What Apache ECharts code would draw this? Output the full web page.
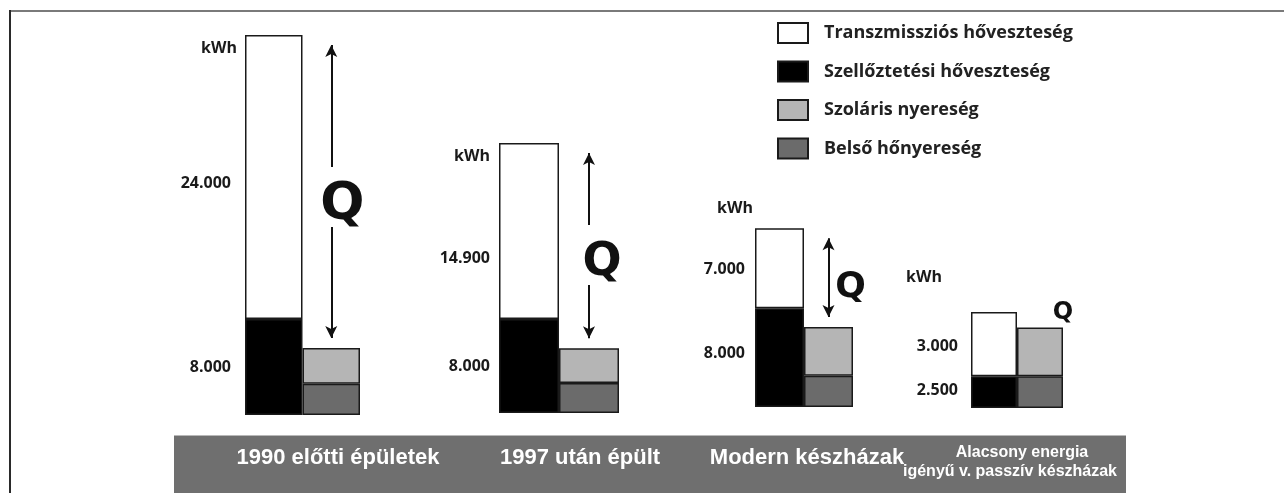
<!DOCTYPE html>
<html>
<head>
<meta charset="utf-8">
<script src="https://cdn.jsdelivr.net/npm/echarts@6/dist/echarts.min.js"></script>
<style>
  html, body { margin: 0; padding: 0; background: #ffffff; }
  #chart { width: 1284px; height: 493px; }
</style>
</head>
<body>
<div id="chart"></div>
<script>
// ---- data (heights, in kWh-equivalent units) ----
const categories = ['1990 előtti épületek', '1997 után épült', 'Modern készházak', 'Alacsony energia\nigényű v. passzív készházak'];
const seriesNames = ['Transzmissziós hőveszteség', 'Szellőztetési hőveszteség', 'Szoláris nyereség', 'Belső hőnyereség'];
const transmission = [24150, 14950, 6800, 5450];
const ventilation = [8150, 8000, 8400, 2700];
const solar = [3050, 2950, 4150, 4150];
const internal = [2650, 2550, 2650, 2700];
const transmissionLabels = ['24.000', '14.900', '7.000', '3.000'];
const ventilationLabels = ['8.000', '8.000', '8.000', '2.500'];
const unitName = 'kWh';
const qLabel = 'Q';
const barSlots = ['veszteség', 'nyereség'];

// ---- layout (pixels) ----
const PER_PX = 85;          // value units per pixel
const GRID_H = 400;
const layout = [
  { left: 245, width: 115, baseline: 415, kwhY: 48,  kwhPad: 8,  dist: 14, tOff: 6,  vOff: 0,  qY: 205, qDx: 11, qSize: 52, arrow: 'gap' },
  { left: 499, width: 120, baseline: 413, kwhY: 156, kwhPad: 9,  dist: 9,  tOff: 27, vOff: 0,  qY: 263, qDx: 13, qSize: 46, arrow: 'gap' },
  { left: 755, width: 98,  baseline: 407, kwhY: 208, kwhPad: 2,  dist: 10, tOff: 1,  vOff: -4, qY: 288, qDx: 22, qSize: 36, arrow: 'full' },
  { left: 971, width: 92,  baseline: 408, kwhY: 277, kwhPad: 29, dist: 13, tOff: 2,  vOff: -2, qY: 313, qDx: 23, qSize: 24, arrow: 'none' }
];
const bandLabelPos = [[338, 458], [580, 458], [807, 458], [[1022, 453], [1010, 472]]];

const colors = {
  transmission: '#ffffff',
  ventilation: '#000000',
  solar: '#b5b5b5',
  internal: '#6b6b6b',
  border: '#1a1a1a',
  text: '#1a1a1a'
};
const numFont = { fontFamily: 'Open Sans', fontWeight: 'bold', fontSize: 16, color: colors.text };

const grids = [], xAxes = [], yAxes = [], series = [];
layout.forEach((L, g) => {
  const top = L.baseline - GRID_H;
  grids.push({ left: L.left, top: top, width: L.width, height: GRID_H });
  xAxes.push({ gridIndex: g, type: 'category', data: barSlots, show: false });
  yAxes.push({
    gridIndex: g, type: 'value', min: 0, max: GRID_H * PER_PX,
    axisLine: { show: false }, axisTick: { show: false }, axisLabel: { show: false }, splitLine: { show: false },
    name: unitName, nameLocation: 'end', nameGap: -(L.kwhY - top),
    nameTextStyle: Object.assign({}, numFont, { align: 'right', verticalAlign: 'middle', padding: [0, L.kwhPad, 0, 0] })
  });
  const base = {
    type: 'bar', xAxisIndex: g, yAxisIndex: g, stack: 'g' + g,
    barCategoryGap: '0%', barGap: '0%', silent: true
  };
  const border = { borderColor: colors.border, borderWidth: 1.5 };
  series.push(Object.assign({}, base, {
    name: seriesNames[1], data: [ventilation[g], '-'],
    itemStyle: Object.assign({ color: colors.ventilation }, border),
    label: Object.assign({ show: true, position: 'left', distance: L.dist, offset: [0, L.vOff],
      formatter: () => ventilationLabels[g] }, numFont)
  }));
  series.push(Object.assign({}, base, {
    name: seriesNames[3], data: ['-', internal[g]],
    itemStyle: Object.assign({ color: colors.internal }, border)
  }));
  series.push(Object.assign({}, base, {
    name: seriesNames[0], data: [transmission[g], '-'],
    itemStyle: Object.assign({ color: colors.transmission }, border),
    label: Object.assign({ show: true, position: 'left', distance: L.dist, offset: [0, L.tOff],
      formatter: () => transmissionLabels[g] }, numFont)
  }));
  // arrows and Q
  const lossTotal = transmission[g] + ventilation[g];
  const gainTotal = solar[g] + internal[g];
  const aTop = lossTotal - 10 * PER_PX;
  const aBot = gainTotal + 10 * PER_PX;
  const qVal = (L.baseline - L.qY) * PER_PX;
  let mlData = [];
  if (L.arrow === 'gap') {
    mlData = [
      [{ coord: [1, qVal + 38 * PER_PX], symbol: 'none' }, { coord: [1, aTop], symbol: 'arrow' }],
      [{ coord: [1, qVal - 22 * PER_PX], symbol: 'none' }, { coord: [1, aBot], symbol: 'arrow' }]
    ];
  } else if (L.arrow === 'full') {
    mlData = [[{ coord: [1, aBot], symbol: 'arrow' }, { coord: [1, aTop], symbol: 'arrow' }]];
  }
  series.push(Object.assign({}, base, {
    name: seriesNames[2], data: ['-', solar[g]],
    itemStyle: Object.assign({ color: colors.solar }, border),
    markLine: mlData.length ? {
      silent: true, symbolSize: [9, 12], label: { show: false },
      lineStyle: { color: '#111111', width: 2, type: 'solid' },
      emphasis: { disabled: true },
      data: mlData
    } : undefined,
    markPoint: {
      silent: true, symbol: 'rect', symbolSize: [1, 1],
      itemStyle: { color: 'rgba(0,0,0,0)' },
      label: { show: true, position: 'inside', offset: [L.qDx, 0], formatter: qLabel,
        fontFamily: 'DejaVu Sans', fontWeight: 'bold', fontSize: L.qSize, color: '#111111' },
      data: [{ coord: [1, qVal] }]
    }
  }));
});

// frame, band and band labels
const graphics = [
  { type: 'line', shape: { x1: 9, y1: 11, x2: 1284, y2: 11 }, style: { stroke: '#7a7a7a', lineWidth: 2 }, silent: true },
  { type: 'line', shape: { x1: 10, y1: 10, x2: 10, y2: 493 }, style: { stroke: '#2a2a2a', lineWidth: 2 }, silent: true },
  { type: 'rect', shape: { x: 174, y: 435, width: 952, height: 58 }, style: { fill: '#6f6f6f' }, silent: true },
  { type: 'line', shape: { x1: 174, y1: 435.5, x2: 1126, y2: 435.5 }, style: { stroke: '#b8b8b8', lineWidth: 1 }, silent: true }
];
categories.forEach((c, i) => {
  const lines = c.split('\n');
  if (lines.length === 1) {
    graphics.push({ type: 'text', x: bandLabelPos[i][0], y: bandLabelPos[i][1], silent: true,
      style: { text: c, fill: '#ffffff', font: 'bold 22px "Liberation Sans", Arial, sans-serif', textAlign: 'center', textVerticalAlign: 'middle' } });
  } else {
    lines.forEach((ln, k) => {
      graphics.push({ type: 'text', x: bandLabelPos[i][k][0], y: bandLabelPos[i][k][1], silent: true,
        style: { text: ln, fill: '#ffffff', font: 'bold 16px "Liberation Sans", Arial, sans-serif', textAlign: 'center', textVerticalAlign: 'middle' } });
    });
  }
});

const chart = echarts.init(document.getElementById('chart'), null, { renderer: 'canvas' });
chart.setOption({
  animation: false,
  backgroundColor: '#ffffff',
  legend: {
    data: seriesNames, orient: 'vertical', left: 777, top: 22, padding: 0,
    itemWidth: 30, itemHeight: 20, itemGap: 16.5, icon: 'rect', selectedMode: false,
    textStyle: { fontFamily: 'Open Sans', fontWeight: 'bold', fontSize: 18, lineHeight: 20, color: '#222222', padding: [0, 0, 0, 11] }
  },
  grid: grids, xAxis: xAxes, yAxis: yAxes, series: series,
  graphic: graphics
});
</script>
</body>
</html>
